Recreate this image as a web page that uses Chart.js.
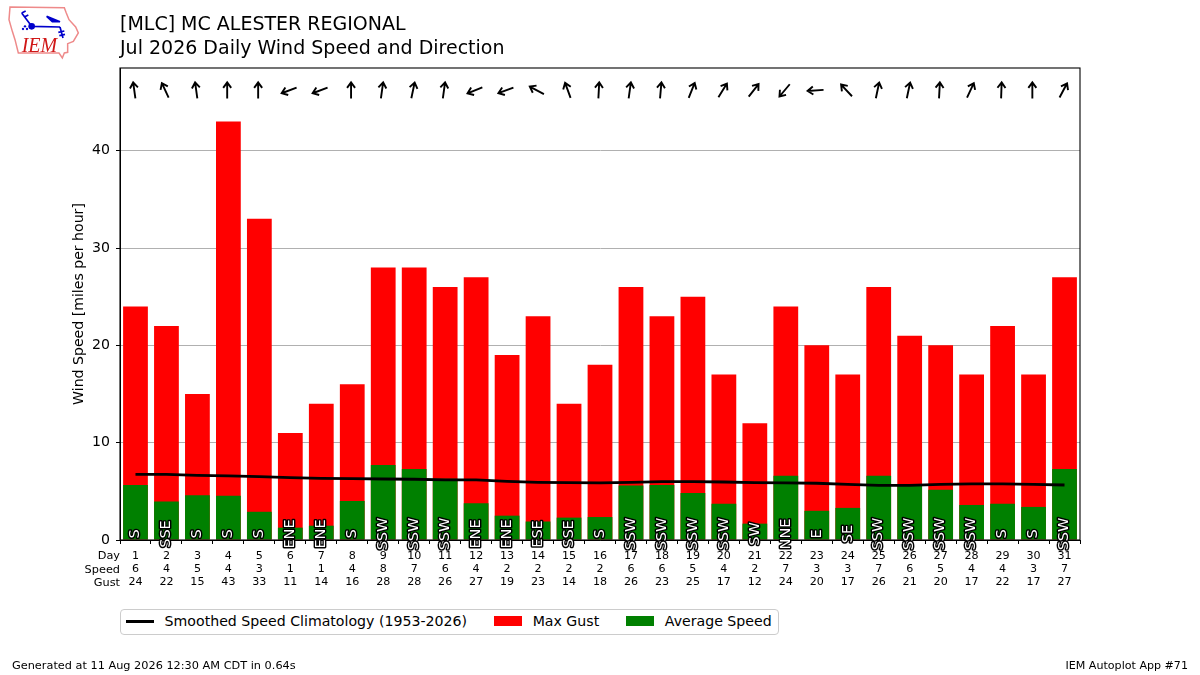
<!DOCTYPE html>
<html>
<head>
<meta charset="utf-8">
<title>Daily Wind Speed and Direction</title>
<script src="https://cdn.jsdelivr.net/npm/chart.js@4/dist/chart.umd.min.js"></script>
<style>
  html, body { margin:0; padding:0; background:#fff; }
  body { width:1200px; height:675px; position:relative; overflow:hidden; font-family:"DejaVu Sans", sans-serif; color:#000; }
  #chartWrap { position:absolute; left:0; top:0; width:1200px; height:675px; }
  #logo { position:absolute; left:5px; top:3px; width:80px; height:58px; }
  #title { position:absolute; left:120px; top:11px; font-size:19px; line-height:24px; white-space:pre; }
  #legend { position:absolute; left:120px; top:609px; height:26px; box-sizing:border-box; border:1px solid #ccc; border-radius:4px; padding:0 6px 2px 5px; display:flex; align-items:center; font-size:14.15px; background:#fff; white-space:pre; }
  #legend .sw { display:inline-block; width:28px; margin-right:10.6px; }
  #legend .item { display:flex; align-items:center; margin-right:27px; }
  #legend .item:last-child { margin-right:0; }
  .foot { position:absolute; top:659px; line-height:13px; }
</style>
</head>
<body>
<div id="chartWrap"><canvas id="windChart" width="1200" height="675"></canvas></div>

<svg id="logo" viewBox="0 0 240 174">
  <path d="M15 12 L178 14 L183 28 L192 50 L212 72 L220 90 L205 115 L188 122 L188 148 L178 150 L172 165 L162 150 L40 150 L30 110 L22 85 L12 50 Z" fill="#fff" stroke="#ee8a8a" stroke-width="4.5"/>
  <path d="M80 70 L165 72 M80 70 L50 30 M50 30 L62 24 M58 42 L70 36 M125 40 L165 56 L142 56 Z M165 72 L174 105 M160 88 L178 84 M163 98 L180 94" fill="#0000cc" stroke="#0000cc" stroke-width="5"/>
  <circle cx="80" cy="70" r="10" fill="#0000cc"/>
  <circle cx="60" cy="70" r="3.5" fill="#0000cc"/><circle cx="54" cy="78" r="3.5" fill="#0000cc"/><circle cx="66" cy="78" r="3.5" fill="#0000cc"/>
  <text x="50" y="146" font-family="Liberation Serif" font-style="italic" font-size="60" fill="#d01818">IEM</text>
</svg>

<div id="title">[MLC] MC ALESTER REGIONAL
Jul 2026 Daily Wind Speed and Direction</div>
<div id="legend"></div>
<div class="foot" style="left:12px;font-size:11.3px">Generated at 11 Aug 2026 12:30 AM CDT in 0.64s</div>
<div class="foot" style="right:12px;font-size:11.1px">IEM Autoplot App #71</div>

<script>
const days = ['1','2','3','4','5','6','7','8','9','10','11','12','13','14','15','16','17','18','19','20','21','22','23','24','25','26','27','28','29','30','31'];
const avgSpeed = [5.65,3.95,4.6,4.55,2.9,1.27,1.47,4.0,7.7,7.3,6.3,3.77,2.5,1.9,2.3,2.36,5.6,5.65,4.83,3.73,1.68,6.6,3.0,3.3,6.6,5.76,5.17,3.6,3.73,3.4,7.3];
const maxGust = [24,22,15,43,33,11,14,16,28,28,26,27,19,23,14,18,26,23,25,17,12,24,20,17,26,21,20,17,22,17,27];
const climo = [6.75,6.74,6.65,6.58,6.51,6.41,6.34,6.3,6.27,6.24,6.17,6.17,6.03,5.93,5.89,5.86,5.93,6.0,6.0,5.96,5.89,5.86,5.83,5.72,5.62,5.62,5.72,5.76,5.76,5.72,5.65];
const speedLabels = ['6','4','5','4','3','1','1','4','8','7','6','4','2','2','2','2','6','6','5','4','2','7','3','3','7','6','5','4','4','3','7'];
const gustLabels = ['24','22','15','43','33','11','14','16','28','28','26','27','19','23','14','18','26','23','25','17','12','24','20','17','26','21','20','17','22','17','27'];
const dirLabels = ['S','SSE','S','S','S','ENE','ENE','S','SSW','SSW','SSW','ENE','ENE','ESE','SSE','S','SSW','SSW','SSW','SSW','SW','NNE','E','SE','SSW','SSW','SSW','SSW','S','S','SSW'];
// heading the arrow points to, degrees clockwise from straight up
const arrowDeg = [-8,-25,-8,0,0,-111,-111,0,8,12,8,-112,-110,-62,-20,3,8,5,22,32,38,220,-94,-43,12,12,3,25,2,0,28];
const rowNames = ['Day','Speed','Gust'];
const yTicks = [0,10,20,30,40];

const FONT = '"DejaVu Sans", sans-serif';

// --- frame, arrows, direction labels, row names ---
const overlay = {
  id:'overlay',
  afterDraw(chart){
    const {ctx, chartArea:a, scales:{x,y}} = chart;
    ctx.save();
    ctx.strokeStyle = '#000';
    ctx.lineWidth = 1.1;
    ctx.strokeRect(a.left, a.top, a.right-a.left, a.bottom-a.top);

    // wind direction arrows along the top
    const arrowY = y.getPixelForValue(46.2);
    ctx.lineWidth = 1.9;
    ctx.lineCap = 'butt';
    arrowDeg.forEach((deg,i)=>{
      ctx.save();
      ctx.translate(x.getPixelForValue(i)-1.2, arrowY);
      ctx.rotate(deg*Math.PI/180);
      ctx.beginPath();
      ctx.moveTo(0,8);
      ctx.lineTo(0,-8);
      ctx.moveTo(-4,-2.5);
      ctx.lineTo(0,-8);
      ctx.lineTo(4,-2.5);
      ctx.stroke();
      ctx.restore();
    });

    // direction names, rotated, near the bar base
    ctx.font = '14.5px '+FONT;
    ctx.textAlign = 'center';
    ctx.textBaseline = 'middle';
    ctx.lineJoin = 'round';
    dirLabels.forEach((d,i)=>{
      ctx.save();
      ctx.translate(x.getPixelForValue(i), 534);
      ctx.rotate(-Math.PI/2);
      ctx.strokeStyle = '#000';
      ctx.lineWidth = 2.8;
      ctx.strokeText(d,0,0);
      ctx.fillStyle = '#fff';
      ctx.fillText(d,0,0);
      ctx.restore();
    });

    // row names left of the tick labels
    ctx.font = '11.3px '+FONT;
    ctx.fillStyle = '#000';
    ctx.textAlign = 'right';
    rowNames.forEach((n,i)=> ctx.fillText(n, 120, 556+i*13.6));
    ctx.restore();
  }
};

const chart = new Chart(document.getElementById('windChart'), {
  type:'bar',
  data:{
    labels:days,
    datasets:[
      {type:'line', label:'Smoothed Speed Climatology (1953-2026)', data:climo, borderColor:'#000', borderWidth:2.8, pointRadius:0, tension:0, order:1},
      {label:'Max Gust', data:maxGust, backgroundColor:'#ff0000', grouped:false, barPercentage:.8, categoryPercentage:1, order:3},
      {label:'Average Speed', data:avgSpeed, backgroundColor:'#008000', grouped:false, barPercentage:.8, categoryPercentage:1, order:2},
    ]
  },
  options:{
    responsive:false,
    animation:false,
    layout:{padding:{left:71, right:120, top:68, bottom:85}},
    plugins:{legend:{display:false}, tooltip:{enabled:false}, title:{display:false}},
    scales:{
      x:{
        afterFit(s){ s.height = 50; },
        grid:{display:true, drawOnChartArea:false, tickLength:4, tickColor:'#000', lineWidth:1},
        border:{color:'#000'},
        ticks:{
          autoSkip:false, maxRotation:0, minRotation:0, padding:5, color:'#000',
          font:{family:FONT, size:11.1, lineHeight:1.21},
          callback(v,i){ return [days[i], speedLabels[i], gustLabels[i]]; }
        }
      },
      y:{
        min:0, max:48.5,
        afterFit(s){ s.width = 49; },
        afterBuildTicks(s){ s.ticks = yTicks.map(v=>({value:v})); },
        grid:{color:'#b0b0b0', lineWidth:1, tickLength:4, tickColor:'#000'},
        border:{color:'#000'},
        title:{display:true, text:'Wind Speed [miles per hour]', color:'#000', font:{family:FONT, size:14.1}, padding:0},
        ticks:{color:'#000', padding:6, font:{family:FONT, size:14.1}}
      }
    }
  },
  plugins:[overlay]
});

// --- legend, built from the datasets ---
(function(){
  const box = document.getElementById('legend');
  chart.data.datasets.forEach(ds=>{
    const item = document.createElement('span');
    item.className = 'item';
    const sw = document.createElement('span');
    sw.className = 'sw';
    if (ds.type === 'line') { sw.style.height = '3px'; sw.style.background = ds.borderColor; }
    else { sw.style.height = '10px'; sw.style.background = ds.backgroundColor; }
    item.appendChild(sw);
    item.appendChild(document.createTextNode(ds.label));
    box.appendChild(item);
  });
})();
</script>
</body>
</html>
